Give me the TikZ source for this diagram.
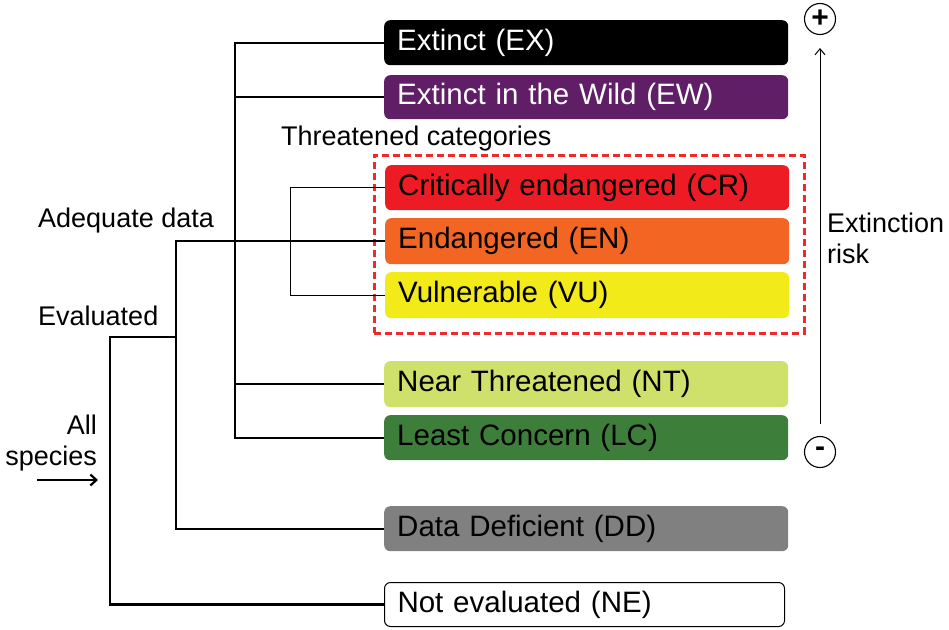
\documentclass[tikz,border=0pt]{standalone}
\usepackage{fontspec}
\setmainfont{Liberation Sans}
\usetikzlibrary{arrows.meta}
\definecolor{cEW}{HTML}{5F1E66}
\definecolor{cCR}{HTML}{ED1C24}
\definecolor{cEN}{HTML}{F26522}
\definecolor{cVU}{HTML}{F2EA19}
\definecolor{cNT}{HTML}{CFE06B}
\definecolor{cLC}{HTML}{3E7E3B}
\definecolor{cDD}{HTML}{808080}
\definecolor{cDash}{HTML}{EE2A2A}
\tikzset{
  cat/.style={anchor=north west, minimum width=404pt, text width=378pt, inner xsep=13pt, inner ysep=0pt,
    align=left, rounded corners=6pt, font=\fontsize{29.5}{34}\selectfont, text=black},
  lbl/.style={inner sep=0pt, font=\fontsize{27}{31}\selectfont},
  branch/.style={line width=2.4pt, line join=miter},
  thinbranch/.style={line width=1pt},
  sign/.style={circle, draw, line width=1.1pt, minimum size=31pt, inner sep=0pt, font=\fontsize{30}{30}\selectfont\bfseries}
}
\begin{document}
\begin{tikzpicture}[x=1pt,y=-1pt]
\useasboundingbox (0,0) rectangle (949,629);

% category boxes
\node[cat, fill=black, text=white, minimum height=45pt] (ex) at (384,20) {Extinct (EX)};
\node[cat, fill=cEW, text=white, minimum height=44pt] (ew) at (384,75) {Extinct in the Wild (EW)};
\node[cat, fill=cCR, minimum height=45pt] (cr) at (385,165) {Critically endangered (CR)};
\node[cat, fill=cEN, minimum height=46pt] (en) at (385,218) {Endangered (EN)};
\node[cat, fill=cVU, minimum height=46pt] (vu) at (385,272) {Vulnerable (VU)};
\node[cat, fill=cNT, minimum height=46pt] (nt) at (384,361) {Near Threatened (NT)};
\node[cat, fill=cLC, minimum height=45pt] (lc) at (384,415) {Least Concern (LC)};
\node[cat, fill=cDD, minimum height=45pt] (dd) at (384,506) {Data Deficient (DD)};
\node[cat, fill=white, draw=black, line width=1pt, minimum width=400pt, text width=374pt, minimum height=44pt] (ne) at (384,582) {Not evaluated (NE)};

% threatened group
\node[draw=cDash, dashed, dash pattern=on 7pt off 4pt, line width=2.5pt, anchor=north west,
      minimum width=430pt, minimum height=178pt, inner sep=0pt] (grp) at (373,154) {};
\node[lbl, anchor=base west] (thr) at (281,145) {Threatened categories};

% labels
\node[lbl, anchor=base west] (adq) at (38,227) {Adequate data};
\node[lbl, anchor=base west] (evl) at (38,325) {Evaluated};
\node[lbl, anchor=base east, align=right] (all) at (97,465) {All~\\species};

% trunk coordinates
\coordinate (tA) at (235,0);
\coordinate (tB) at (290,0);
\coordinate (tC) at (176,0);
\coordinate (tD) at (110,0);
\coordinate (ev) at (176,337);

% branches
\draw[branch] (ex.west) -| (tA |- lc.west) -- (lc.west);
\draw[branch] (tA |- ew.west) -- (ew.west);
\draw[branch] (tA |- nt.west) -- (nt.west);
\draw[thinbranch] (cr.west) -| (tB |- vu.west) -- (vu.west);
\draw[branch] (en.west) -| (tC |- dd.west) -- (dd.west);
\draw[branch] (ev) -| (tD |- ne.west) -- (ne.west);

% input arrow
\coordinate (a1) at (37,480);
\coordinate (a2) at (98,480);
\draw[line width=2.2pt, -{Straight Barb[length=6pt, width=11pt, line width=2.2pt]}] (a1) -- (a2);

% extinction risk axis
\node[sign] (plus) at (820,19) {+};
\node[sign] (minus) at (820,452) {-};
\draw[line width=1pt, -{Straight Barb[length=6pt, width=10pt]}, shorten <=12pt, shorten >=13pt] (minus.north) -- (plus.south);
\node[lbl, anchor=base west, align=left] (risk) at (827,263) {Extinction\\risk};
\end{tikzpicture}
\end{document}
